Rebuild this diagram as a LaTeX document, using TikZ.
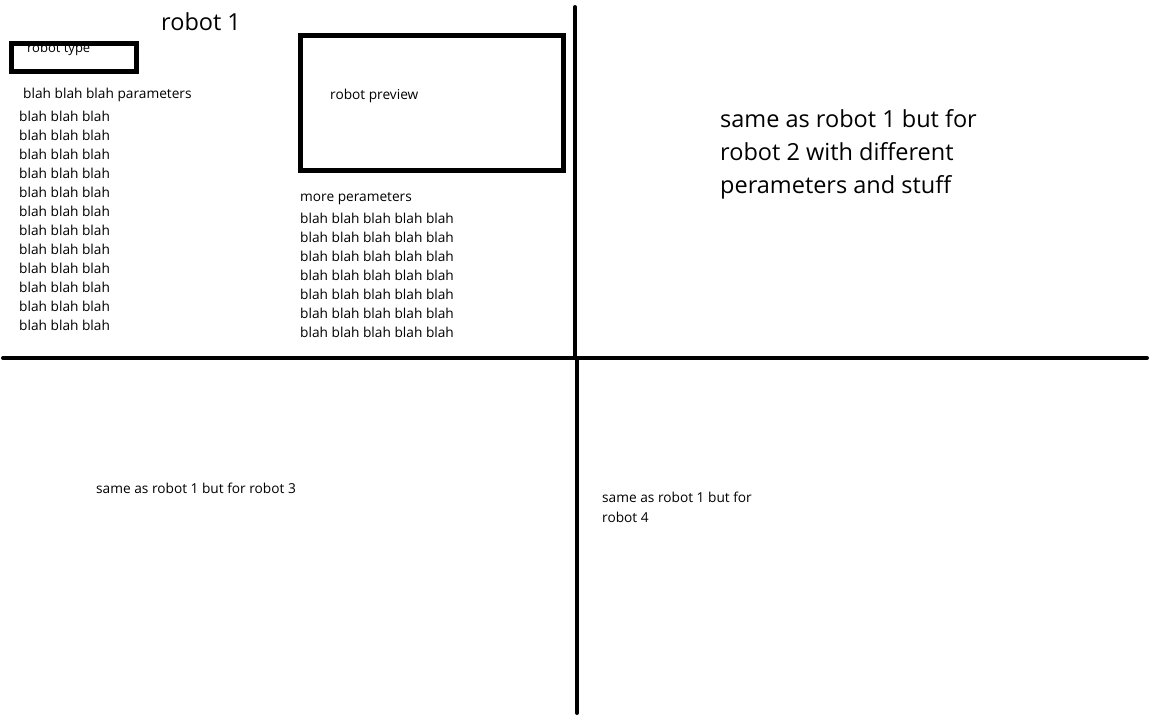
\documentclass[tikz,border=0pt]{standalone}
\usepackage{fontspec}
\setmainfont{Open Sans}
\begin{document}
\begin{tikzpicture}[x=1pt,y=-1pt,
  divider/.style={line width=4pt,line cap=round},
  boxframe/.style={draw,line width=5pt},
  small/.style={anchor=west,inner sep=0pt,font=\fontsize{13.7}{16}\selectfont},
  big/.style={anchor=west,inner sep=0pt,font=\fontsize{23.5}{28}\selectfont},
  bigpara/.style={anchor=north west,inner sep=0pt,align=left,font=\fontsize{23.5}{33}\selectfont}]
\useasboundingbox[fill=white] (0,0) rectangle (1152,720);
% dividers
\coordinate (vt) at (575,7);
\coordinate (vm) at (575,357);
\coordinate (vb0) at (577,360);
\coordinate (vb) at (577,713);
\coordinate (hl) at (3,358);
\coordinate (hr) at (1147,358);
\draw[divider] (vt) -- (vm);
\draw[divider] (vb0) -- (vb);
\draw[divider] (hl) -- (hr);
% robot 1 quadrant
\node[big] (title) at (161,22) {robot 1};
\draw[boxframe] (11.5,43.5) rectangle (136.5,71.5);
\node[small,font=\fontsize{13}{15}\selectfont] (rtype) at (27,49) {robot type};
\node[small] (params) at (23,95) {blah blah blah parameters};
\foreach \i in {0,...,11}
  \node[small] (b\i) at (19,116+19*\i) {blah blah blah};
\draw[boxframe] (300.5,35.5) rectangle (563.5,170.5);
\node[small] (preview) at (330,96) {robot preview};
\node[small] (more) at (300,199) {more perameters};
\foreach \i in {0,...,6}
  \node[small] (c\i) at (300,218+19*\i) {blah blah blah blah blah};
% other quadrants
\node[bigpara] (r2) at (720,109) {same as robot 1 but for\\robot 2 with different\\perameters and stuff};
\node[small] (r3) at (96,488) {same as robot 1 but for robot 3};
\node[small,anchor=north west,align=left,font=\fontsize{13.7}{20}\selectfont] (r4) at (602,492) {same as robot 1 but for\\robot 4};
\end{tikzpicture}
\end{document}
